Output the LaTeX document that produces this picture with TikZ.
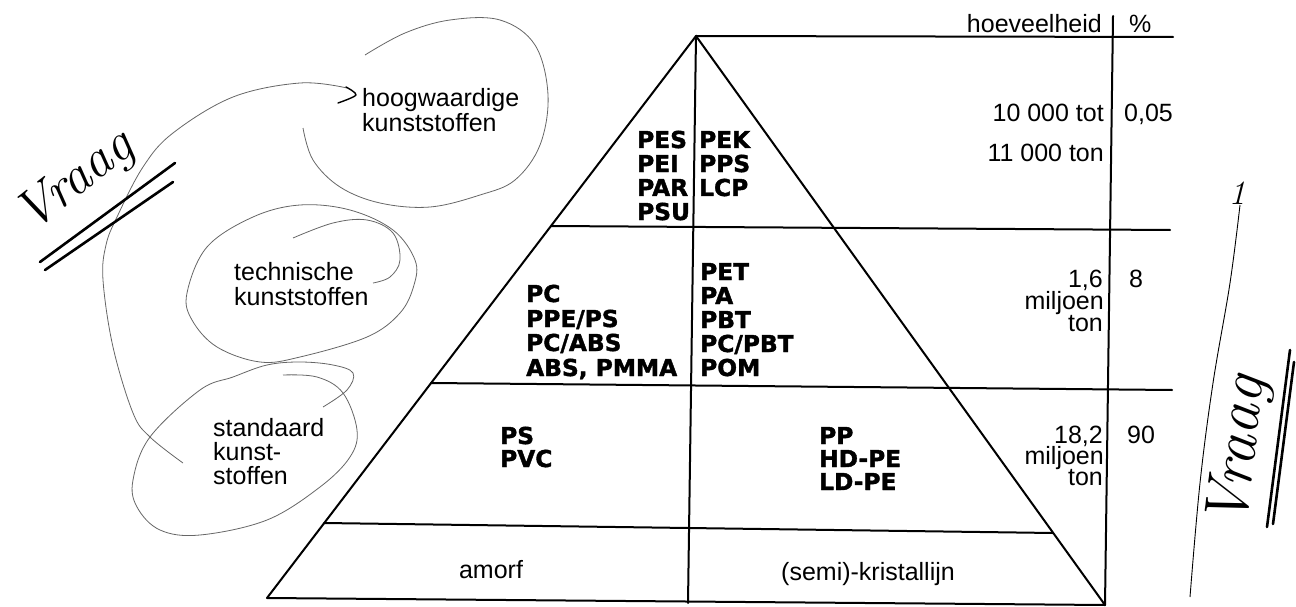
\documentclass[tikz,border=0pt]{standalone}
\usepackage{fontspec}
\newfontfamily\hel{Liberation Sans}
\newfontfamily\blk{DejaVu Sans}[BoldFeatures={FakeBold=1.6}]
\begin{document}
\begin{tikzpicture}[x=1pt,y=-1pt,
  reg/.style={font=\hel\fontsize{25}{25}\selectfont, inner sep=0pt},
  blab/.style={font=\blk\bfseries\fontsize{23.3}{24}\selectfont, inner sep=0pt},
  pyr/.style={line width=2pt, line join=round, line cap=round},
  pencil/.style={line width=0.8pt, draw=black!60},
  ink/.style={line width=2.6pt, line cap=round},
  hand/.style={font=\itshape\fontsize{54}{54}\selectfont, inner sep=0pt}]
\useasboundingbox (0,0) rectangle (1296,607);

% pyramid geometry
\coordinate (A) at (696,36);
\coordinate (BL) at (267,598);
\coordinate (BR) at (1105,605);
\coordinate (T1) at (1173,37);
\coordinate (L1a) at (551,226);
\coordinate (L1b) at (1170,230);
\coordinate (L2a) at (431,383);
\coordinate (L2b) at (1172,390);
\coordinate (L3a) at (324,523);
\coordinate (L3b) at (1053,533);
\coordinate (C0) at (688,603);
\coordinate (V0) at (1113,16);
\coordinate (V1) at (1105,605);

\draw[pyr] (BL) -- (A) -- (BR) -- cycle;
\draw[pyr] (A) -- (T1);
\draw[pyr] (A) -- (C0);
\draw[pyr] (L1a) -- (L1b);
\draw[pyr] (L2a) -- (L2b);
\draw[pyr] (L3a) -- (L3b);
\draw[pyr] (V0) -- (V1);

% table texts
\node[reg, anchor=base east] (hoev) at (1102,33) {hoeveelheid};
\node[reg, anchor=base west] (pct) at (1129,33) {\%};
\node[reg, anchor=base east] (q1a) at (1104,122) {10 000 tot};
\node[reg, anchor=base east] (q1b) at (1104,161) {11 000 ton};
\node[reg, anchor=base west] (p1) at (1124,122) {0,05};
\node[reg, anchor=base east] (q2a) at (1103,287) {1,6};
\node[reg, anchor=base east] (q2b) at (1104,309) {miljoen};
\node[reg, anchor=base east] (q2c) at (1103,331) {ton};
\node[reg, anchor=base west] (p2) at (1129,287) {8};
\node[reg, anchor=base east] (q3a) at (1103,443) {18,2};
\node[reg, anchor=base east] (q3b) at (1104,464) {miljoen};
\node[reg, anchor=base east] (q3c) at (1103,485) {ton};
\node[reg, anchor=base west] (p3) at (1127,443) {90};

% bold labels, top tier
\node[blab, anchor=base west] (tl1) at (637,148) {PES};
\node[blab, anchor=base west] (tl2) at (637,172) {PEI};
\node[blab, anchor=base west] (tl3) at (637,196) {PAR};
\node[blab, anchor=base west] (tl4) at (637,220) {PSU};
\node[blab, anchor=base west] (tr1) at (699,148) {PEK};
\node[blab, anchor=base west] (tr2) at (699,172) {PPS};
\node[blab, anchor=base west] (tr3) at (699,196) {LCP};
% middle tier
\node[blab, anchor=base west] (ml1) at (526,302) {PC};
\node[blab, anchor=base west] (ml2) at (526,327) {PPE/PS};
\node[blab, anchor=base west] (ml3) at (526,351) {PC/ABS};
\node[blab, anchor=base west] (ml4) at (526,376) {ABS, PMMA};
\node[blab, anchor=base west] (mr1) at (700,280) {PET};
\node[blab, anchor=base west] (mr2) at (700,304) {PA};
\node[blab, anchor=base west] (mr3) at (700,328) {PBT};
\node[blab, anchor=base west] (mr4) at (700,352) {PC/PBT};
\node[blab, anchor=base west] (mr5) at (700,376) {POM};
% bottom tier
\node[blab, anchor=base west] (bl1) at (500,444) {PS};
\node[blab, anchor=base west] (bl2) at (500,467) {PVC};
\node[blab, anchor=base west] (br1) at (819,444) {PP};
\node[blab, anchor=base west] (br2) at (819,467) {HD-PE};
\node[blab, anchor=base west] (br3) at (819,490) {LD-PE};
% base row
\node[reg, anchor=base] (amo) at (491,578) {amorf};
\node[reg, anchor=base] (kri) at (868,580) {(semi)-kristallijn};

% left labels
\node[reg, anchor=base west] (hw1) at (362,107) {hoogwaardige};
\node[reg, anchor=base west] (hw2) at (362,132) {kunststoffen};
\node[reg, anchor=base west] (te1) at (234,280) {technische};
\node[reg, anchor=base west] (te2) at (234,305) {kunststoffen};
\node[reg, anchor=base west] (st1) at (213,436) {standaard};
\node[reg, anchor=base west] (st2) at (213,460) {kunst-};
\node[reg, anchor=base west] (st3) at (213,484) {stoffen};

% pencil loops
\draw[pencil] plot[smooth, tension=0.6] coordinates {(365,55) (405,33) (450,20) (500,20) (535,45) (548,95) (540,145) (515,180) (480,195) (430,207) (380,203) (340,187) (313,160) (303,128)};
\draw[pencil] plot[smooth, tension=0.6] coordinates {(183,463) (150,437) (133,413) (113,347) (103,280) (106,245) (117,217) (143,167) (173,133) (233,97) (300,83) (347,88)};
\draw[line width=1.4pt, line cap=round, line join=round] plot[smooth, tension=0.5] coordinates {(346,87) (356,95) (338,103)};
\draw[pencil] plot[smooth cycle, tension=0.6] coordinates {(187,293) (207,247) (253,217) (300,205) (350,210) (393,230) (415,260) (414,285) (400,313) (367,337) (300,357) (260,362) (217,347) (192,320)};
\draw[pencil] plot[smooth, tension=0.6] coordinates {(293,238) (333,223) (367,220) (393,233) (400,260) (390,277) (373,283)};
\draw[pencil] plot[smooth, tension=0.6] coordinates {(283,375) (317,377) (343,393) (357,430) (350,457) (320,487) (267,520) (200,535) (160,530) (137,507) (133,480) (150,437) (200,390) (233,377) (267,365) (300,362) (333,365) (353,373) (347,390) (323,407)};

% handwriting left
\node[hand, rotate=38] (vr1) at (76,182) {Vraag};
\draw[ink] (40,262) -- (175,163);
\draw[ink] (45,270) -- (173,182);

% handwriting right
\node[font=\itshape\fontsize{34}{34}\selectfont, inner sep=0pt] (one) at (1237,193) {1};
\draw[line width=0.9pt] plot[smooth, tension=0.6] coordinates {(1240,205) (1230,283) (1213,383) (1200,483) (1190,597)};
\node[hand, font=\itshape\fontsize{62}{62}\selectfont, rotate=83] (vr2) at (1240,452) {Vraag};
\draw[ink] (1267,527) -- (1290,350);
\draw[ink] (1273,524) -- (1294,362);
\end{tikzpicture}
\end{document}
